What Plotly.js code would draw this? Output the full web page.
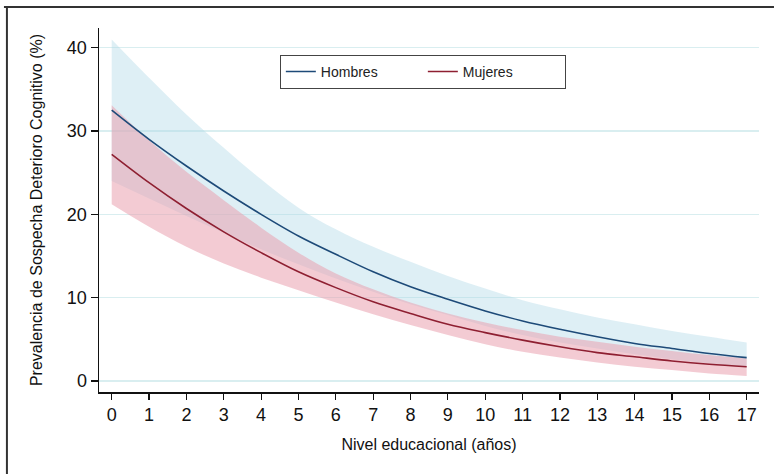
<!DOCTYPE html>
<html>
<head>
<meta charset="utf-8">
<script src="https://cdn.plot.ly/plotly-3.0.1.min.js"></script>
<style>html,body{margin:0;padding:0;background:#fff}#chart{width:774px;height:474px}</style>
</head>
<body>
<div id="chart"></div>
<script>
// Años de educación
const years = [0,1,2,3,4,5,6,7,8,9,10,11,12,13,14,15,16,17];
// Hombres: estimación y banda de confianza (%)
const hombres      = [32.5,29.0,25.8,22.8,20.0,17.4,15.2,13.1,11.3,9.8,8.4,7.2,6.2,5.3,4.5,3.9,3.3,2.8];
const hombresUpper = [41.0,36.4,32.0,28.0,24.2,20.8,18.2,16.1,14.3,12.6,11.1,9.7,8.6,7.6,6.8,6.0,5.3,4.6];
const hombresLower = [24.0,21.9,19.8,17.8,15.8,14.0,12.3,10.7,9.2,7.9,6.6,5.5,4.6,3.9,3.2,2.6,2.1,1.6];
// Mujeres: estimación y banda de confianza (%)
const mujeres      = [27.2,23.8,20.7,17.9,15.4,13.1,11.2,9.5,8.1,6.8,5.8,4.9,4.1,3.4,2.9,2.4,2.0,1.7];
const mujeresUpper = [33.1,28.9,25.1,21.7,18.4,15.4,12.9,11.0,9.4,8.1,7.0,6.1,5.3,4.7,4.1,3.6,3.1,2.7];
const mujeresLower = [21.2,18.5,16.1,14.1,12.4,10.9,9.4,8.0,6.7,5.5,4.4,3.5,2.8,2.2,1.7,1.3,0.9,0.6];
const yTicks = [0,10,20,30,40];

const edge = {width:0, color:'rgba(0,0,0,0)', shape:'spline', smoothing:1};
const traces = [
  {x: years, y: hombresLower, mode:'lines', line:edge, showlegend:false, hoverinfo:'skip'},
  {x: years, y: hombresUpper, mode:'lines', line:edge, fill:'tonexty', fillcolor:'rgba(173,216,230,0.4)', showlegend:false, hoverinfo:'skip'},
  {x: years, y: mujeresLower, mode:'lines', line:edge, showlegend:false, hoverinfo:'skip'},
  {x: years, y: mujeresUpper, mode:'lines', line:edge, fill:'tonexty', fillcolor:'rgba(233,160,175,0.55)', showlegend:false, hoverinfo:'skip'},
  {x: years, y: hombres, mode:'lines', name:'Hombres', line:{color:'#1d4a78', width:1.6, shape:'spline', smoothing:1}},
  {x: years, y: mujeres, mode:'lines', name:'Mujeres', line:{color:'#8e1f31', width:1.6, shape:'spline', smoothing:1}}
];

const layout = {
  width: 774, height: 474,
  margin: {l:99, r:15, t:28, b:82},
  paper_bgcolor:'#fff', plot_bgcolor:'#fff',
  font: {family:'"Liberation Sans", Arial, sans-serif', color:'#111'},
  showlegend: true,
  legend: {
    orientation:'h', x:0.274, y:0.926, xanchor:'left', yanchor:'top',
    bordercolor:'#444', borderwidth:1, bgcolor:'#fff',
    font:{size:14, color:'#222'}, entrywidth:97, entrywidthmode:'pixels',
    traceorder:'normal'
  },
  xaxis: {
    range:[-0.34, 17.33], tickvals: years, ticktext: years.map(String),
    showgrid:false, zeroline:false, showline:true, linecolor:'#111', linewidth:1.5,
    ticks:'outside', ticklen:6, tickwidth:1.2, tickcolor:'#111',
    tickfont:{size:18}, fixedrange:true,
    title:{text:'Nivel educacional (años)', font:{size:16}, standoff:14}
  },
  yaxis: {
    range:[-1.33, 42.37], tickvals: yTicks, ticktext: yTicks.map(String),
    showgrid:true, gridcolor:'#d9eef0', gridwidth:1.5, zeroline:false,
    showline:true, linecolor:'#111', linewidth:1.5,
    ticks:'outside', ticklen:7, tickwidth:1.2, tickcolor:'#111',
    tickfont:{size:18}, fixedrange:true,
    title:{text:'Prevalencia de Sospecha Deterioro Cognitivo (%)', font:{size:16}, standoff:20}
  },
  shapes: [
    {type:'line', xref:'paper', yref:'paper', x0:-0.144, x1:1.0227, y0:1.0575, y1:1.0575, line:{color:'#333', width:2}},
    {type:'line', xref:'paper', yref:'paper', x0:-0.1395, x1:-0.1395, y0:1.06, y1:-0.3, line:{color:'#333', width:2}}
  ]
};

Plotly.newPlot('chart', traces, layout, {displayModeBar:false, staticPlot:true});
</script>
</body>
</html>
